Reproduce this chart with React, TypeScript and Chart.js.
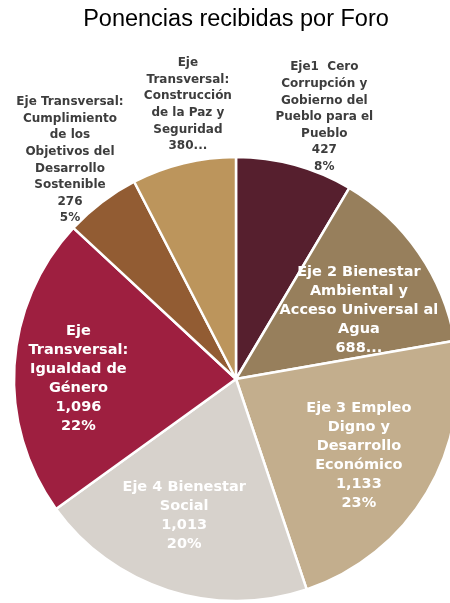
import React, { useEffect, useRef } from "react";
import { Chart, registerables } from "chart.js";

Chart.register(...registerables);

const titleText = "Ponencias recibidas por Foro";

const categories: string[][] = [
  ["Eje1  Cero", "Corrupción y", "Gobierno del", "Pueblo para el", "Pueblo"],
  ["Eje 2 Bienestar", "Ambiental y", "Acceso Universal al", "Agua"],
  ["Eje 3 Empleo", "Digno y", "Desarrollo", "Económico"],
  ["Eje 4 Bienestar", "Social"],
  ["Eje", "Transversal:", "Igualdad de", "Género"],
  ["Eje Transversal:", "Cumplimiento", "de los", "Objetivos del", "Desarrollo", "Sostenible"],
  ["Eje", "Transversal:", "Construcción", "de la Paz y", "Seguridad"],
];

const values = [427, 688, 1133, 1013, 1096, 276, 380];

// percentage labels as printed in the original (null = label cut off)
const percentLabels: (string | null)[] = ["8%", null, "23%", "20%", "22%", "5%", null];

// labels shown cut off ("688...") in the original
const truncated = [false, true, false, false, false, false, true];

const colors = ["#561f2e", "#977f5c", "#c3ae8d", "#d7d2cc", "#9e1f40", "#925c33", "#bc955c"];

// label placement (style / layout, not data)
const labelOutside = [true, false, false, false, false, true, true];
const labelRadiusFrac = [1.245, 0.635, 0.653, 0.66, 0.71, 1.237, 1.255];
const labelAngleNudgeDeg = [3.3, 5.3, 1.3, 2.9, -3.5, 0, 3.7];

function labelLines(i: number): string[] {
  const v = values[i];
  const vs = v.toLocaleString("en-US");
  if (truncated[i]) return [...categories[i], vs + "..."];
  const lines = [...categories[i], vs];
  if (percentLabels[i]) lines.push(percentLabels[i] as string);
  return lines;
}

const labelPlugin = {
  id: "sliceLabels",
  afterDatasetsDraw(chart: any) {
    const ctx = chart.ctx as CanvasRenderingContext2D;
    const meta = chart.getDatasetMeta(0);
    meta.data.forEach((arc: any, i: number) => {
      const { x, y, startAngle, endAngle, outerRadius } = arc.getProps(
        ["x", "y", "startAngle", "endAngle", "outerRadius"],
        true
      );
      const mid = (startAngle + endAngle) / 2 + (labelAngleNudgeDeg[i] * Math.PI) / 180;
      const r = outerRadius * labelRadiusFrac[i];
      const cx = x + Math.cos(mid) * r;
      const cy = y + Math.sin(mid) * r;
      const outside = labelOutside[i];
      const size = outside ? 12 : 14.5;
      const lh = outside ? 16.6 : 19;
      const lines = labelLines(i);
      ctx.save();
      ctx.font = `bold ${size}px "DejaVu Sans", sans-serif`;
      ctx.fillStyle = outside ? "#3d3d3d" : "#ffffff";
      ctx.textAlign = "center";
      ctx.textBaseline = "middle";
      const top = cy - ((lines.length - 1) * lh) / 2;
      lines.forEach((t, k) => ctx.fillText(t, cx, top + k * lh));
      ctx.restore();
    });
  },
};

export default function App() {
  const ref = useRef<HTMLCanvasElement | null>(null);

  useEffect(() => {
    if (!ref.current) return;
    const chart = new Chart(ref.current, {
      type: "pie",
      data: {
        labels: categories.map((c) => c.join(" ")),
        datasets: [
          {
            data: values,
            backgroundColor: colors,
            borderColor: "#ffffff",
            borderWidth: 2.5,
            radius: 222,
          } as any,
        ],
      },
      options: {
        responsive: false,
        animation: false,
        layout: { padding: 0 },
        plugins: {
          legend: { display: false },
          tooltip: { enabled: false },
          title: {
            display: true,
            text: titleText,
            color: "#000000",
            font: { family: '"Liberation Sans", Arial, sans-serif', size: 23.5, weight: "normal", lineHeight: 1.2 },
            padding: { top: 5, bottom: 121.8 },
          },
        },
      },
      plugins: [labelPlugin],
    });
    return () => chart.destroy();
  }, []);

  return (
    <div
      style={{
        position: "absolute",
        left: 0,
        top: 0,
        width: 450,
        height: 603,
        overflow: "hidden",
        background: "#ffffff",
      }}
    >
      <canvas ref={ref} width={472} height={603} style={{ display: "block", width: 472, height: 603 }} />
    </div>
  );
}
